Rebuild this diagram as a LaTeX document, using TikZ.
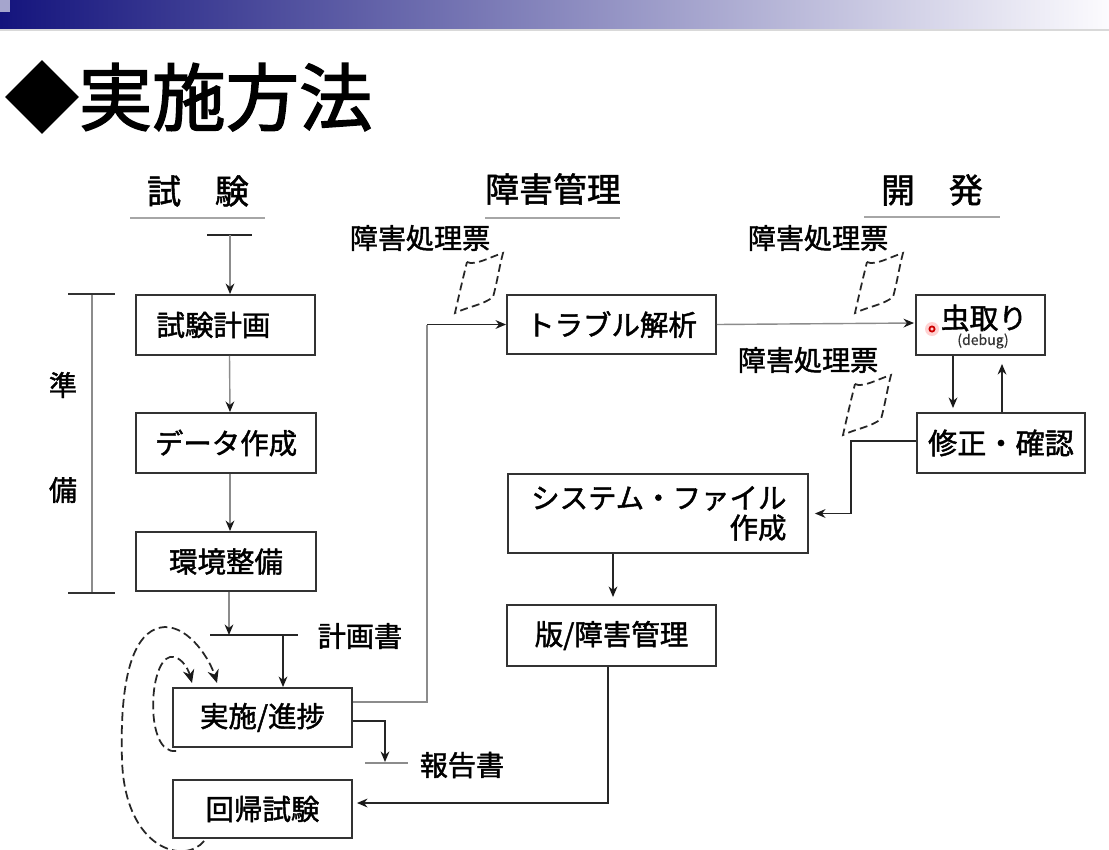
\documentclass[tikz,border=0pt]{standalone}
\usepackage{fontspec}
\setmainfont{Noto Sans CJK JP}[FakeBold=1.5]
\newfontfamily\titlefont{Noto Sans CJK JP}[FakeBold=2]
\newfontfamily\smallfont{Noto Sans CJK JP}[FakeBold=0.6]
\usetikzlibrary{arrows.meta,calc}
\definecolor{barL}{RGB}{20,20,125}
\definecolor{barM}{RGB}{150,150,200}
\definecolor{barR}{RGB}{252,251,254}
\definecolor{barSq}{RGB}{165,165,205}
\begin{document}
\begin{tikzpicture}[x=0.02cm,y=-0.02cm,
  box/.style={draw=black!80,line width=1.1pt,inner sep=0pt,
    font=\fontsize{16.2pt}{19pt}\selectfont},
  lbl/.style={inner sep=0pt,font=\fontsize{16pt}{19pt}\selectfont},
  hdr/.style={inner sep=0pt,font=\fontsize{19.3pt}{22pt}\selectfont},
  rule/.style={draw=black!35,line width=1pt},
  tip/.style={-{Stealth[length=6pt,width=5pt,color=black!90]}},
  link/.style={draw=black!85,line width=0.9pt,tip},
  faint/.style={draw=black!45,line width=0.8pt},
  faintlink/.style={faint,tip},
  loopback/.style={draw=black!85,line width=1pt,dash pattern=on 5pt off 2.5pt,
    -{Stealth[length=7.5pt,width=6.5pt,color=black!90]}},
  ticket/.pic={
    \draw[black!85,line width=1pt,dash pattern=on 4.5pt off 2.5pt]
      (12,9) .. controls (20,13) and (35,4) .. (48,0) .. controls (44,15) and (42,30) .. (38,44)
      .. controls (28,52) and (12,54) .. (0,60) .. controls (4,42) and (8,25) .. cycle;
  }
]
\useasboundingbox (0,0) rectangle (1109,849);
\fill[white] (0,0) rectangle (1109,849);

% title band
\shade[left color=barL, middle color=barM, right color=barR] (0,0) rectangle (1109,30);
\fill[barSq] (0,0) rectangle (10,12);
\draw[black!15,line width=0.6pt] (0,30) -- (1109,30);

% slide title
\node[anchor=west,inner sep=0pt,font=\titlefont\fontsize{41.8pt}{48pt}\selectfont] (title) at (5,97) {◆実施方法};

% column headers
\node[hdr] (hTest) at (198,191) {試　験};
\draw[rule] (130,218) -- (265,218);
\node[hdr] (hMgmt) at (553,189) {障害管理};
\draw[rule] (485,218) -- (620,218);
\node[hdr] (hDev) at (932,190) {開　発};
\draw[rule] (864,217) -- (1000,217);

% test column
\coordinate (start) at (230,235);
\draw[black!85,line width=1.3pt] (207,235) -- (252,235);
\node[box,minimum width=3.58cm,minimum height=1.2cm] (plan) at (225.5,325) {試験計画\hspace*{0.85em}\null};
\node[box,minimum width=3.6cm,minimum height=1.2cm] (data) at (226,443) {データ作成};
\node[box,minimum width=3.6cm,minimum height=1.18cm] (env) at (226,561.5) {環境整備};
\draw[faintlink] (start) -- (start |- plan.north);
\draw[faintlink] ($(plan.south)+(4,0)$) -- ($(data.north)+(4,0)$);
\draw[faintlink] ($(data.south)+(4,0)$) -- ($(env.north)+(4,0)$);

% preparation bracket
\draw[black!45,line width=0.9pt] (92,294) -- (92,593);
\draw[black!80,line width=1.2pt] (68,294) -- (115,294);
\draw[black!80,line width=1.2pt] (68,593) -- (115,593);
\node[lbl] (junA) at (63,385) {準};
\node[lbl] (junB) at (63,490) {備};

% test plan document and execution
\coordinate (pbar) at (229,635);
\coordinate (pdrop) at (283,635);
\draw[black!85,line width=1pt] (210,635) -- (298,635);
\node[lbl] (planDoc) at (360,636) {計画書};
\draw[faintlink] ($(env.south)+(3,0)$) -- (pbar);
\node[box,minimum width=3.58cm,minimum height=1.18cm] (exec) at (262.5,717.5) {実施/進捗};
\draw[link] (pdrop) -- (pdrop |- exec.north);
\node[box,minimum width=3.58cm,minimum height=1.16cm] (regr) at (262.5,809) {回帰試験};

% report document
\coordinate (rep) at (385,762);
\draw[faint] (365,763) -- (408,763);
\node[lbl] (repDoc) at (462,765) {報告書};
\draw[link] ($(exec.east)+(0,3.5)$) -| (rep);

% repeat loops
\draw[loopback] ($(exec.south west)+(4,3)$) .. controls (145,755) and (148,662) ..
  (170,657) .. controls (180,655) and (188,668) .. (192,683);
\draw[loopback] ($(regr.south west)+(32,2)$) .. controls (185,865) and (125,850) ..
  (122,760) .. controls (119,660) and (140,628) .. (165,627)
  .. controls (190,627) and (210,660) .. (217,683);

% fault management column
\node[box,minimum width=4.18cm,minimum height=1.18cm] (trouble) at (611.5,324.5) {トラブル解析};
\draw[faint] ($(exec.east)+(0,-15.5)$) -| ($(trouble.west)+(-79,0)$);
\draw[link] ($(trouble.west)+(-79,0)$) -- (trouble.west);
\pic at (455,253) {ticket};
\node[lbl] (ticketA) at (420,238) {障害処理票};

\node[box,minimum width=6cm,minimum height=1.58cm,align=right,text width=5.14cm] (sysfile) at (658,513.5)
  {システム・ファイル\\[-2pt]作成};
\node[box,minimum width=4.18cm,minimum height=1.22cm] (ver) at (611.5,635.5) {版/障害管理};
\draw[link] ($(sysfile.south)+(-45,0)$) -- ($(ver.north)+(1.5,-7)$);
\draw[link] ($(ver.south)+(-3.5,0)$) |- ($(regr.east)+(4,-6)$);

% development column
\node[box,minimum width=2.58cm,minimum height=1.2cm] (debug) at (980.5,325) {};
\node[inner sep=0pt,font=\fontsize{16.4pt}{19pt}\selectfont] (debugT) at (984,318) {虫取り};
\node[inner sep=0pt,font=\smallfont\fontsize{8pt}{9pt}\selectfont,text=black!80] (debugS) at (983,341) {(debug)};
\fill[red!35,opacity=0.5] (932,329) circle (7);
\draw[red!80!black,line width=1pt] (932,329) circle (2.6);
\draw[faintlink] (trouble.east) -- ($(debug.west)+(-1,-2)$);
\node[box,minimum width=3.36cm,minimum height=1.2cm,font=\fontsize{16.6pt}{19pt}\selectfont] (fix) at (1001,443) {修正・確認};
\draw[link] ($(debug.south)+(-27.5,0)$) -- ($(fix.north)+(-48,-4)$);
\draw[link] ($(fix.north)+(1,0)$) -- ($(debug.south)+(21.5,8)$);
\draw[link] ($(fix.west)+(0,-2)$) -| ($(sysfile.east)+(42,0)$) -- ($(sysfile.east)+(6,0)$);
\pic at (855,253) {ticket};
\node[lbl] (ticketB) at (818,238) {障害処理票};
\pic at (843,375) {ticket};
\node[lbl] (ticketC) at (808,360) {障害処理票};
\end{tikzpicture}
\end{document}
